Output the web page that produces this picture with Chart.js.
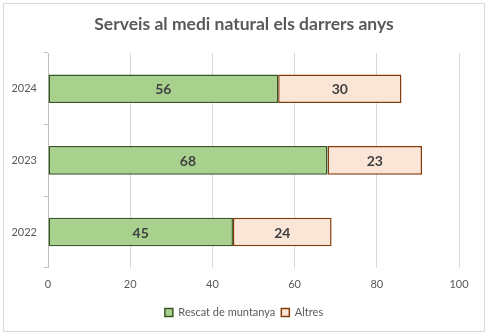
<!DOCTYPE html>
<html><head><meta charset="utf-8">
<script src="https://cdn.jsdelivr.net/npm/chart.js@4"></script>
<style>
html,body{margin:0;padding:0;background:#fff;}
#wrap{position:absolute;left:3px;top:3px;width:482px;height:329px;border:1px solid #d9d9d9;box-sizing:border-box;}
canvas{position:absolute;left:0;top:0;}
</style></head><body>
<div id="wrap"></div>
<canvas id="c" width="488" height="335"></canvas>
<script>
const titleText = "Serveis al medi natural els darrers anys";
const categories = ["2024", "2023", "2022"];
const rescat = [56, 68, 45];
const altres = [30, 23, 24];
const seriesNames = ["Rescat de muntanya", "Altres"];
const xTicks = [0, 20, 40, 60, 80, 100];

const labelPlugin = {
  id: 'barLabels',
  afterDatasetsDraw(chart) {
    const ctx = chart.ctx;
    ctx.save();
    ctx.font = 'bold 14px Lato';
    ctx.fillStyle = '#404040';
    ctx.textAlign = 'center';
    ctx.textBaseline = 'middle';
    chart.data.datasets.forEach((ds, i) => {
      chart.getDatasetMeta(i).data.forEach((el, j) => {
        const p = el.getProps(['x','y','base'], true);
        ctx.fillText(String(ds.data[j]), (p.x + p.base) / 2, p.y + 1);
      });
    });
    ctx.restore();
  }
};

new Chart(document.getElementById('c'), {
  type: 'bar',
  data: {
    labels: categories,
    datasets: [
      {label: seriesNames[0], data: rescat, backgroundColor: '#A9D18E', borderColor: '#385723', borderWidth: 1.5, borderSkipped: false, categoryPercentage: 0.4, barPercentage: 1},
      {label: seriesNames[1], data: altres, backgroundColor: '#FBE5D6', borderColor: '#843C0C', borderWidth: 1.5, borderSkipped: false, categoryPercentage: 0.4, barPercentage: 1}
    ]
  },
  options: {
    indexAxis: 'y',
    responsive: false,
    animation: false,
    devicePixelRatio: 1,
    layout: {padding: {left: 0, right: 0, top: 0, bottom: 7}},
    plugins: {
      title: {display: true, text: titleText, color: '#595959', font: {family: 'Lato', size: 17.5, weight: 'bold'}, padding: {top: 14, bottom: 18}},
      legend: {position: 'bottom', labels: {color: '#595959', font: {family: 'Lato', size: 11}, boxWidth: 8, boxHeight: 8, padding: 6, useBorderRadius: false}},
      tooltip: {enabled: false}
    },
    scales: {
      x: {
        stacked: true, min: 0, max: 100,
        afterBuildTicks: (s) => { s.ticks = xTicks.map(v => ({value: v})); },
        ticks: {color: '#595959', font: {family: 'Lato', size: 11}, padding: 10},
        grid: {color: '#d9d9d9', drawTicks: false},
        border: {display: false}
      },
      y: {
        stacked: true,
        afterFit: (s) => { s.width = 48; },
        ticks: {color: '#595959', font: {family: 'Lato', size: 11}, padding: 7},
        grid: {drawOnChartArea: false, tickLength: 4, color: '#bfbfbf', offset: true},
        border: {color: '#bfbfbf'}
      },
      spacer: {
        type: 'linear', axis: 'y', position: 'right', display: true,
        afterFit: (s) => { s.width = 29; },
        ticks: {display: false},
        grid: {display: false},
        border: {display: false}
      }
    }
  },
  plugins: [labelPlugin]
});
</script>
</body></html>
